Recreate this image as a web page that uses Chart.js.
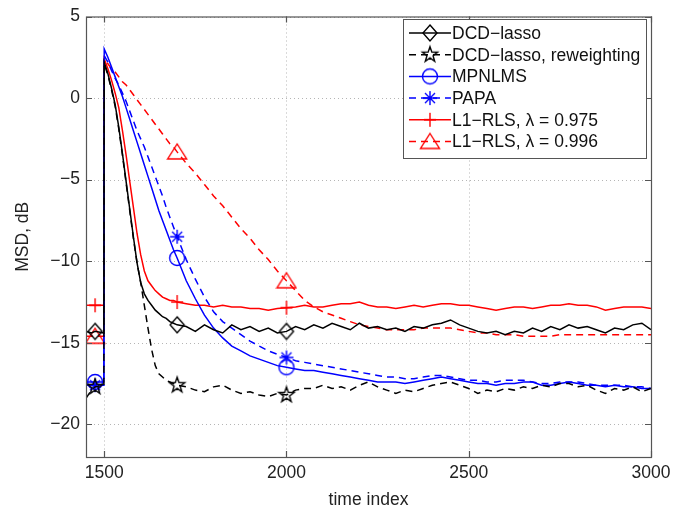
<!DOCTYPE html>
<html>
<head>
<meta charset="utf-8">
<title>MSD vs time index</title>
<script src="https://cdn.jsdelivr.net/npm/chart.js@4.4.1/dist/chart.umd.min.js"></script>
<style>
  html, body { margin: 0; padding: 0; background: #fff; }
  #wrap { width: 689px; height: 517px; }
</style>
</head>
<body>
<div id="wrap"><canvas id="msdChart" width="689" height="517"></canvas></div>
<script>
// Sample times (shared by all curves)
const timeIndex = [
  1450, 1465, 1475, 1499,
  1500, 1510, 1520, 1530, 1540, 1550, 1560, 1570, 1580, 1590, 1600,
  1610, 1620, 1630, 1640, 1650, 1660, 1670, 1680, 1690, 1700,
  1725, 1750, 1775, 1800, 1825, 1850, 1875, 1900, 1925, 1950, 1975, 2000,
  2025, 2050, 2075, 2100, 2125, 2150, 2175, 2200, 2225, 2250, 2275, 2300,
  2325, 2350, 2375, 2400, 2425, 2450, 2475, 2500, 2525, 2550, 2575, 2600,
  2625, 2650, 2675, 2700, 2725, 2750, 2775, 2800, 2825, 2850, 2875, 2900,
  2925, 2950, 2975, 3000
];

// MSD values in dB
const dcdLasso = [
  -14.3, -14.4, -14.3, -14.4,
  2.2, 1.5, 0.6, -0.4, -1.8, -3.4, -5.1, -6.8, -8.5, -10.1, -11.3,
  -12.0, -12.4, -12.7, -13.0, -13.2, -13.4, -13.5, -13.7, -13.8, -13.9,
  -14.0, -14.3, -13.9, -14.2, -14.4, -13.9, -14.2, -14.0, -14.3, -14.1, -14.4, -14.3,
  -14.0, -14.2, -13.9, -14.1, -13.8, -14.0, -14.2, -13.8, -14.1, -14.0, -14.2, -14.1,
  -14.3, -14.0, -14.1, -13.9, -13.8, -13.6, -13.9, -14.1, -14.3, -14.4, -14.3, -14.5,
  -14.3, -14.4, -14.1, -14.3, -14.0, -14.2, -13.9, -14.1, -14.0, -14.2, -14.4, -14.1,
  -14.2, -13.9, -13.8, -14.2
];
const dcdReweight = [
  -18.4, -17.9, -17.7, -17.6,
  2.1, 1.4, 0.5, -0.5, -1.9, -3.5, -5.2, -6.9, -8.6, -10.1, -11.3,
  -12.7, -14.1, -15.4, -16.4, -16.9, -17.1, -17.3, -17.4, -17.5, -17.6,
  -17.7, -17.9, -18.0, -17.7, -17.6, -17.9, -18.1, -18.0, -18.2, -18.3, -18.1, -18.2,
  -17.9, -17.8, -17.8, -17.6, -17.8, -17.7, -17.9, -17.6, -17.4, -17.7, -17.9, -18.1,
  -17.9, -18.0, -17.8, -17.6, -17.5, -17.4, -17.6, -17.8, -18.1, -17.9, -18.0, -17.8,
  -17.9, -17.7, -17.8, -17.6, -17.7, -17.5, -17.5, -17.7, -17.6, -17.9, -18.1, -17.8,
  -17.9, -17.7, -18.0, -17.8
];
const mpnlms = [
  -17.4, -17.4, -17.4, -17.4,
  3.0, 2.5, 1.9, 1.3, 0.7, 0.1, -0.6, -1.3, -2.0, -2.7, -3.4,
  -4.1, -4.8, -5.5, -6.2, -6.9, -7.5, -8.1, -8.7, -9.3, -9.8,
  -11.2, -12.3, -13.3, -14.1, -14.7, -15.2, -15.5, -15.8, -16.0, -16.2, -16.4, -16.5,
  -16.6, -16.7, -16.7, -16.8, -16.9, -17.0, -17.1, -17.2, -17.3, -17.4, -17.4, -17.4,
  -17.5, -17.4, -17.3, -17.2, -17.1, -17.2, -17.3, -17.4, -17.5, -17.5, -17.6, -17.5,
  -17.5, -17.4, -17.4, -17.6, -17.6, -17.5, -17.4, -17.5, -17.6, -17.6, -17.7, -17.6,
  -17.7, -17.7, -17.8, -17.8
];
const papa = [
  -17.6, -17.6, -17.6, -17.6,
  2.6, 2.2, 1.7, 1.2, 0.8, 0.3, -0.2, -0.8, -1.4, -2.0, -2.5,
  -3.0, -3.6, -4.2, -4.8, -5.4, -6.0, -6.7, -7.3, -7.9, -8.5,
  -9.9, -11.1, -12.2, -13.1, -13.7, -14.1, -14.5, -14.9, -15.2, -15.5, -15.7, -15.9,
  -16.1, -16.2, -16.3, -16.4, -16.5, -16.6, -16.7, -16.8, -16.9, -17.0, -17.1, -17.1,
  -17.2, -17.2, -17.1, -17.0, -17.0, -17.1, -17.2, -17.3, -17.3, -17.4, -17.4, -17.3,
  -17.3, -17.3, -17.4, -17.5, -17.5, -17.4, -17.4, -17.4, -17.5, -17.6, -17.6, -17.6,
  -17.6, -17.7, -17.7, -17.8
];
const rls975 = [
  -12.7, -12.7, -12.7, -12.7,
  2.4, 1.8, 1.1, 0.3, -0.6, -2.0, -3.5, -5.1, -6.7, -8.3, -9.6,
  -10.6, -11.2, -11.5, -11.8, -12.0, -12.2, -12.3, -12.4, -12.4, -12.5,
  -12.6, -12.7, -12.7, -12.8, -12.7, -12.8, -12.8, -12.9, -12.9, -13.0, -12.9, -12.85,
  -12.8, -12.7, -12.8, -12.8, -12.7, -12.6, -12.6, -12.5, -12.7, -12.8, -12.8, -12.9,
  -12.8, -12.7, -12.8, -12.7, -12.6, -12.6, -12.7, -12.7, -12.8, -12.9, -13.0, -12.9,
  -12.8, -12.8, -12.9, -12.8, -12.7, -12.7, -12.6, -12.7, -12.7, -12.8, -13.0, -12.9,
  -12.8, -12.8, -12.8, -12.9
];
const rls996 = [
  -14.6, -14.6, -14.6, -14.6,
  2.4, 2.1, 1.8, 1.6, 1.3, 1.0, 0.8, 0.5, 0.2, -0.1, -0.4,
  -0.7, -1.0, -1.3, -1.6, -1.9, -2.2, -2.5, -2.8, -3.0, -3.3,
  -4.0, -4.6, -5.3, -6.0, -6.6, -7.3, -8.0, -8.6, -9.3, -9.9, -10.6, -11.2,
  -11.8, -12.4, -12.8, -13.1, -13.3, -13.5, -13.7, -13.9, -14.0, -14.1, -14.2, -14.2,
  -14.2, -14.2, -14.1, -14.1, -14.1, -14.1, -14.2, -14.3, -14.4, -14.4, -14.5, -14.5,
  -14.5, -14.6, -14.6, -14.6, -14.6, -14.5, -14.5, -14.5, -14.5, -14.5, -14.5, -14.5,
  -14.5, -14.5, -14.5, -14.5
];

const markerTimes = [1475, 1700, 2000];
const xTicks = [1500, 2000, 2500, 3000];
const yTicks = [-20, -15, -10, -5, 0, 5];

const FONT = '"Liberation Sans", Arial, Helvetica, sans-serif';
const minus = s => String(s).replace('-', '\u2212');

// open MATLAB-style markers drawn once onto small canvases
function makeMarker(kind, color) {
  const size = 22;
  const c = document.createElement('canvas');
  c.width = size;
  c.height = size;
  const g = c.getContext('2d');
  const m = size / 2;
  g.strokeStyle = color;
  g.lineWidth = 1.4;
  g.beginPath();
  if (kind === 'diamond') {
    g.moveTo(m, m - 8); g.lineTo(m + 7, m); g.lineTo(m, m + 8); g.lineTo(m - 7, m); g.closePath();
  } else if (kind === 'pentagram') {
    for (let i = 0; i < 10; i++) {
      const r = i % 2 === 0 ? 8 : 3.2;
      const a = -Math.PI / 2 + i * Math.PI / 5;
      const px = m + r * Math.cos(a), py = m + r * Math.sin(a);
      if (i === 0) g.moveTo(px, py); else g.lineTo(px, py);
    }
    g.closePath();
  } else if (kind === 'circle') {
    g.arc(m, m, 7.5, 0, Math.PI * 2);
  } else if (kind === 'asterisk') {
    g.moveTo(m - 7, m); g.lineTo(m + 7, m);
    g.moveTo(m, m - 7); g.lineTo(m, m + 7);
    g.moveTo(m - 5, m - 5); g.lineTo(m + 5, m + 5);
    g.moveTo(m - 5, m + 5); g.lineTo(m + 5, m - 5);
  } else if (kind === 'plus') {
    g.moveTo(m - 6, m); g.lineTo(m + 6, m);
    g.moveTo(m, m - 7); g.lineTo(m, m + 7);
  } else if (kind === 'triangle') {
    g.moveTo(m, m - 8); g.lineTo(m + 9.5, m + 7); g.lineTo(m - 9.5, m + 7); g.closePath();
  }
  g.stroke();
  return c;
}

function series(values) {
  return timeIndex.map((t, i) => ({ x: t, y: values[i] }));
}

function makeDataset(label, values, color, dashed, marker) {
  return {
    label: label,
    data: series(values),
    borderColor: color,
    borderWidth: 1.5,
    borderDash: dashed ? [7, 5] : [],
    tension: 0,
    fill: false,
    pointStyle: makeMarker(marker, color),
    pointRadius: ctx => (ctx.raw && markerTimes.includes(ctx.raw.x)) ? 7 : 0,
    pointHoverRadius: 0
  };
}

// dotted grid, frame and inward tick marks like the MATLAB axes
const axesPlugin = {
  id: 'matlabAxes',
  beforeDatasetsDraw(chart) {
    const { ctx, chartArea: a, scales: { x, y } } = chart;
    ctx.save();
    ctx.strokeStyle = '#b5b5b5';
    ctx.lineWidth = 1;
    ctx.setLineDash([1, 3]);
    xTicks.forEach(v => {
      const px = Math.round(x.getPixelForValue(v)) + 0.5;
      ctx.beginPath(); ctx.moveTo(px, a.top); ctx.lineTo(px, a.bottom); ctx.stroke();
    });
    yTicks.forEach(v => {
      const py = Math.round(y.getPixelForValue(v)) + 0.5;
      ctx.beginPath(); ctx.moveTo(a.left, py); ctx.lineTo(a.right, py); ctx.stroke();
    });
    ctx.restore();
  },
  afterDatasetsDraw(chart) {
    const { ctx, chartArea: a, scales: { x, y } } = chart;
    ctx.save();
    ctx.strokeStyle = '#555';
    ctx.lineWidth = 1.2;
    ctx.strokeRect(a.left + 0.5, a.top + 0.5, a.right - a.left, a.bottom - a.top);
    ctx.beginPath();
    xTicks.forEach(v => {
      const px = Math.round(x.getPixelForValue(v)) + 0.5;
      ctx.moveTo(px, a.bottom); ctx.lineTo(px, a.bottom - 6);
      ctx.moveTo(px, a.top); ctx.lineTo(px, a.top + 6);
    });
    yTicks.forEach(v => {
      const py = Math.round(y.getPixelForValue(v)) + 0.5;
      ctx.moveTo(a.left, py); ctx.lineTo(a.left + 6, py);
      ctx.moveTo(a.right, py); ctx.lineTo(a.right - 6, py);
    });
    ctx.stroke();
    ctx.restore();
  }
};

const legendPlugin = {
  id: 'boxLegend',
  afterDraw(chart) {
    const ctx = chart.ctx;
    const box = { left: 403, top: 19, width: 243, height: 139 };
    ctx.save();
    ctx.fillStyle = '#fff';
    ctx.fillRect(box.left, box.top, box.width, box.height);
    ctx.strokeStyle = '#555';
    ctx.lineWidth = 1;
    ctx.strokeRect(box.left + 0.5, box.top + 0.5, box.width, box.height);
    ctx.font = '17.5px ' + FONT;
    ctx.textBaseline = 'middle';
    chart.data.datasets.forEach((ds, i) => {
      const yy = 33 + i * 21.7;
      ctx.strokeStyle = ds.borderColor;
      ctx.lineWidth = ds.borderWidth;
      ctx.setLineDash(ds.borderDash);
      ctx.beginPath(); ctx.moveTo(409, yy); ctx.lineTo(451, yy); ctx.stroke();
      ctx.setLineDash([]);
      const img = ds.pointStyle;
      ctx.drawImage(img, 430 - img.width / 2, yy - img.height / 2);
      ctx.fillStyle = '#111';
      ctx.fillText(ds.label, 452, yy + 1);
    });
    ctx.restore();
  }
};

const ctx = document.getElementById('msdChart').getContext('2d');
const msdChart = new Chart(ctx, {
  type: 'line',
  data: {
    datasets: [
      makeDataset('DCD\u2212lasso', dcdLasso, '#000000', false, 'diamond'),
      makeDataset('DCD\u2212lasso, reweighting', dcdReweight, '#000000', true, 'pentagram'),
      makeDataset('MPNLMS', mpnlms, '#0000ff', false, 'circle'),
      makeDataset('PAPA', papa, '#0000ff', true, 'asterisk'),
      makeDataset('L1\u2212RLS, \u03bb = 0.975', rls975, '#ff0000', false, 'plus'),
      makeDataset('L1\u2212RLS, \u03bb = 0.996', rls996, '#ff0000', true, 'triangle')
    ]
  },
  options: {
    responsive: false,
    animation: false,
    devicePixelRatio: 1,
    events: [],
    layout: { padding: { top: 13, right: 38, left: 0, bottom: 0 } },
    plugins: {
      legend: { display: false },
      tooltip: { enabled: false }
    },
    scales: {
      x: {
        type: 'linear',
        min: 1450,
        max: 3000,
        afterBuildTicks: s => { s.ticks = xTicks.map(v => ({ value: v })); },
        afterFit: s => { s.height = 60; },
        grid: { display: false, drawTicks: false },
        border: { display: false },
        ticks: {
          autoSkip: false,
          maxRotation: 0,
          padding: 6,
          color: '#222',
          font: { family: FONT, size: 17.5 },
          callback: v => String(v)
        },
        title: {
          display: true,
          text: 'time index',
          color: '#222',
          font: { family: FONT, size: 17.5 },
          padding: { top: 0, bottom: 6 }
        }
      },
      y: {
        type: 'linear',
        min: -22,
        max: 5,
        afterBuildTicks: s => { s.ticks = yTicks.map(v => ({ value: v })); },
        afterFit: s => { s.width = 86; },
        grid: { display: false, drawTicks: false },
        border: { display: false },
        ticks: {
          padding: 6,
          color: '#222',
          font: { family: FONT, size: 17.5 },
          callback: v => minus(v)
        },
        title: {
          display: true,
          text: 'MSD, dB',
          color: '#222',
          font: { family: FONT, size: 17.5 },
          padding: { top: 13, bottom: 0 }
        }
      }
    }
  },
  plugins: [axesPlugin, legendPlugin]
});
</script>
</body>
</html>
